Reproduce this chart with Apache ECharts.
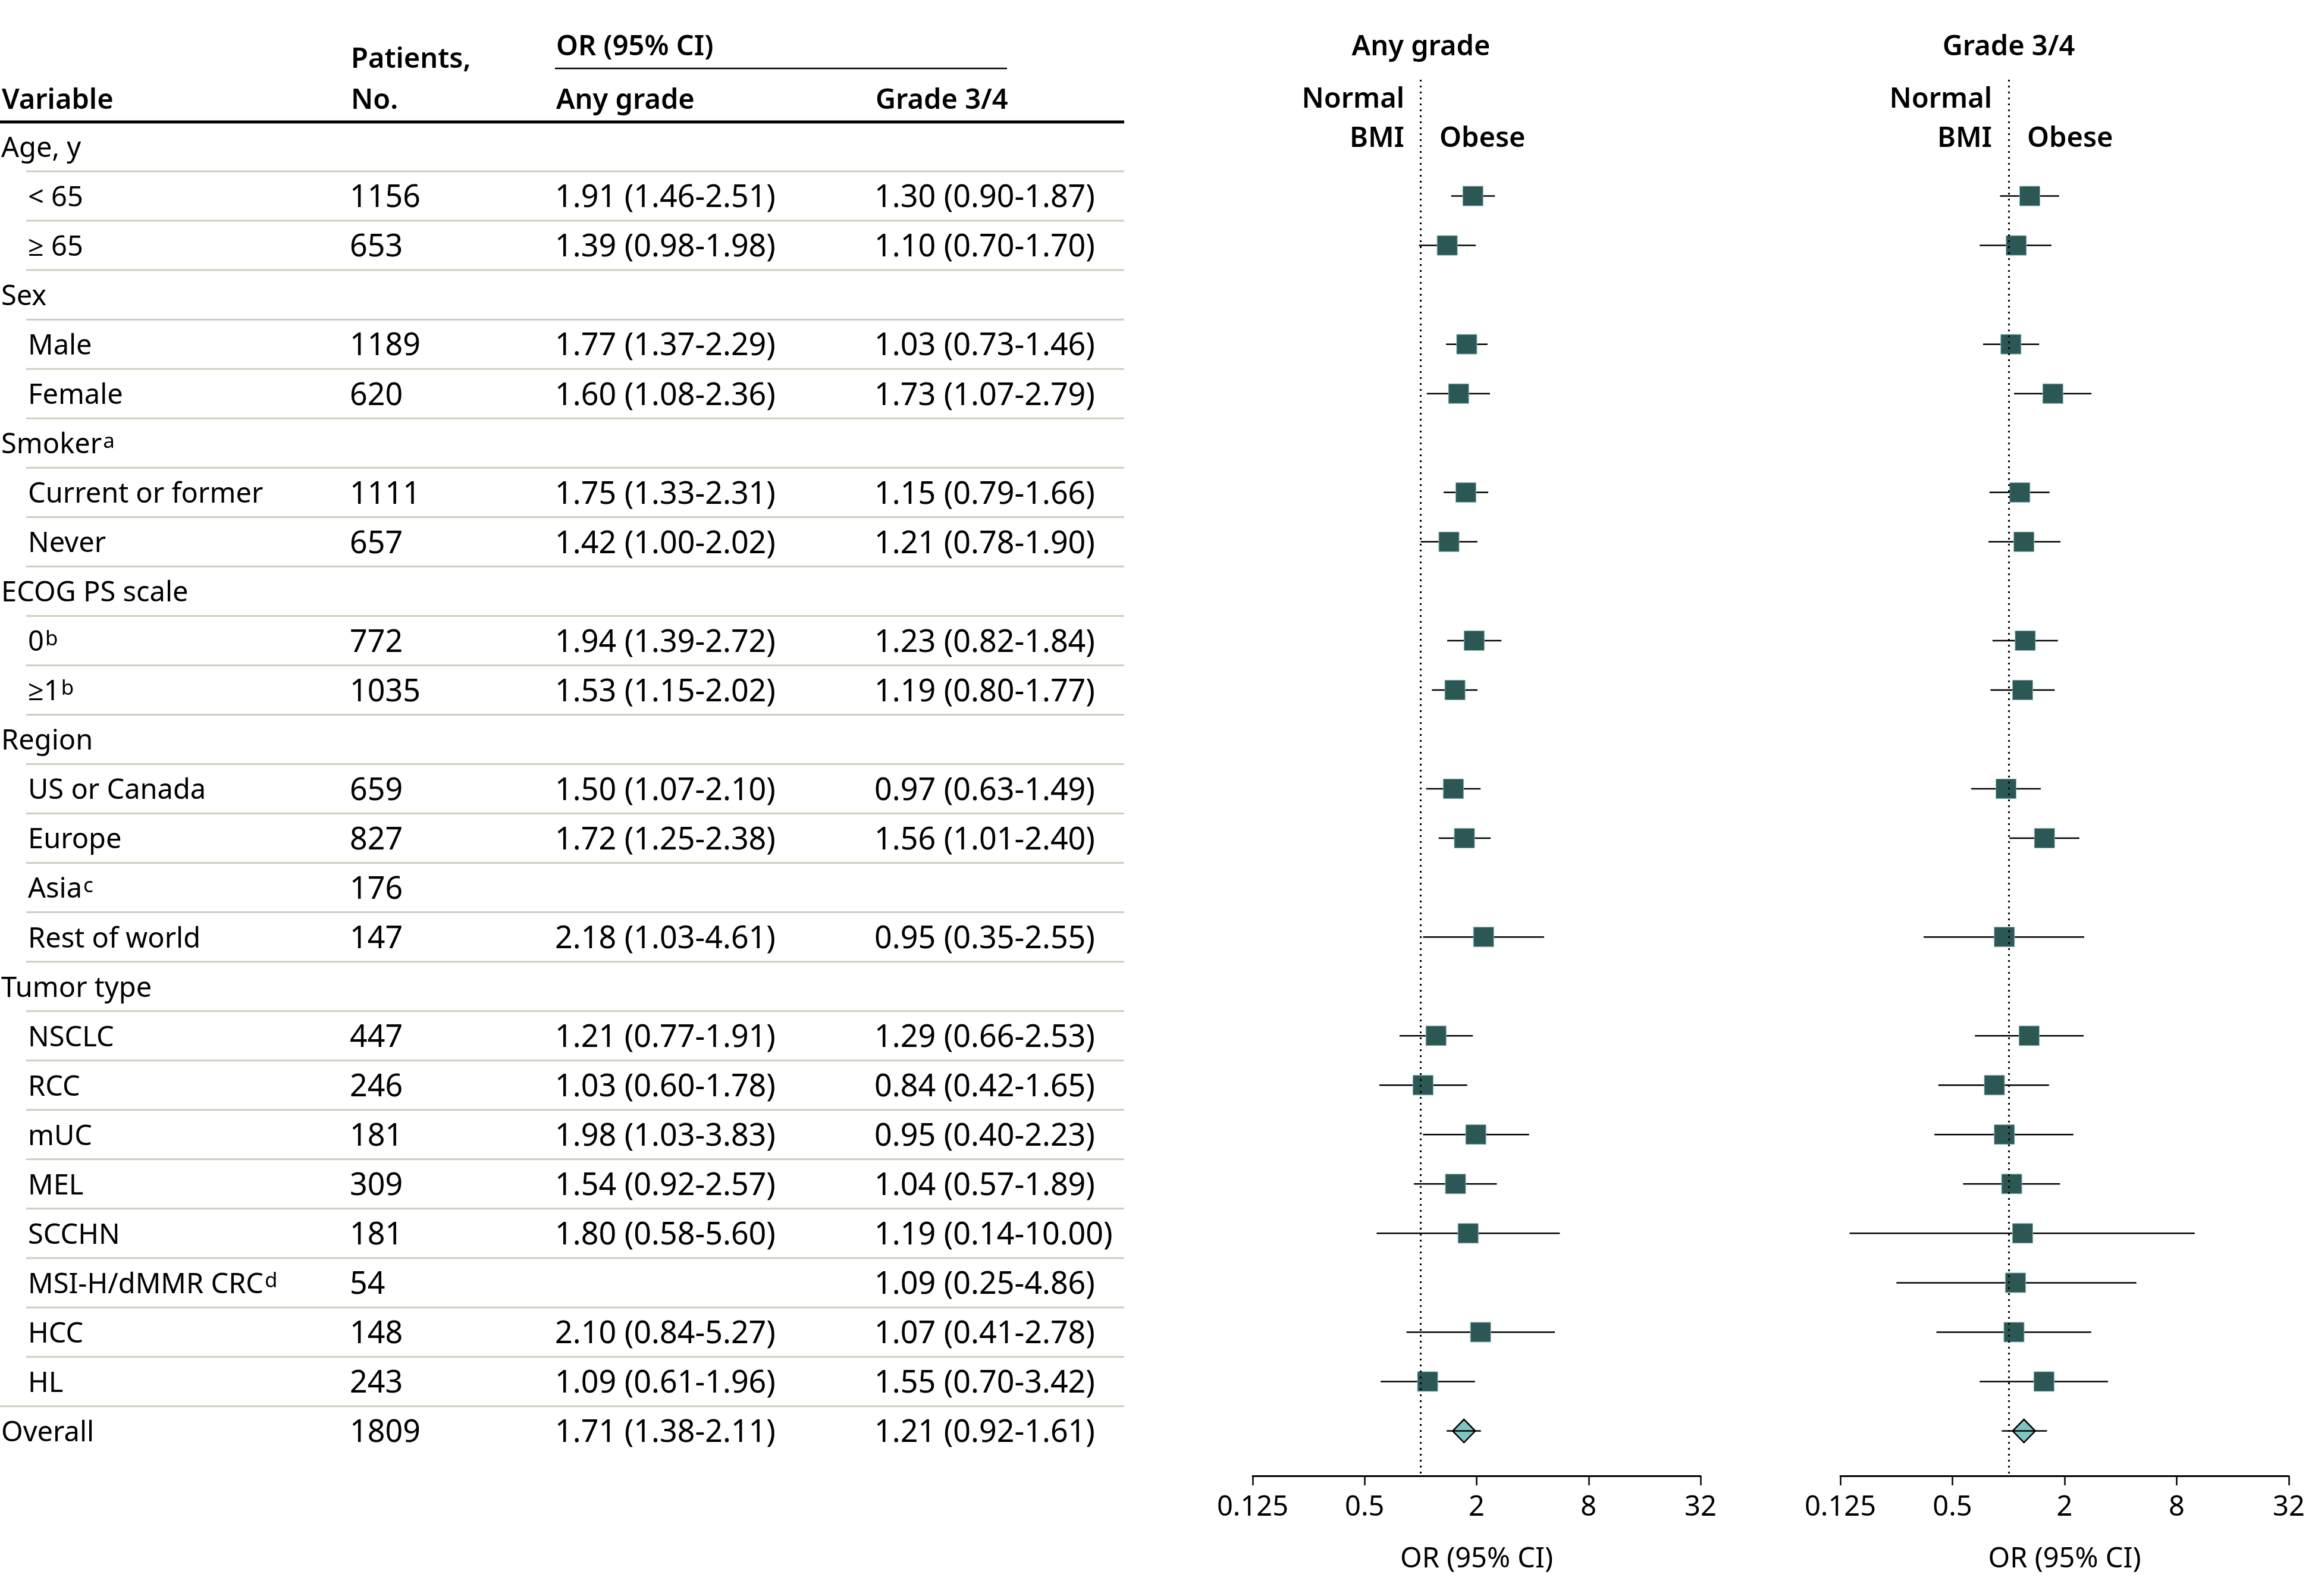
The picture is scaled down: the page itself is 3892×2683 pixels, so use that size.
<!DOCTYPE html>
<html><head><meta charset="utf-8">
<script src="https://cdn.jsdelivr.net/npm/echarts@6/dist/echarts.min.js"></script>
<style>html,body{margin:0;padding:0;background:#fff}#c{width:3892px;height:2683px}</style>
</head><body><div id="c"></div>
<script>
// ---------------- DATA ----------------
const variables = ['Age, y','< 65','≥ 65','Sex','Male','Female','Smoker','Current or former','Never','ECOG PS scale','0','≥1','Region','US or Canada','Europe','Asia','Rest of world','Tumor type','NSCLC','RCC','mUC','MEL','SCCHN','MSI-H/dMMR CRC','HCC','HL','Overall'];
const footnotes = ['','','','','','','a','','','','b','b','','','','c','','','','','','','','d','','',''];
const rowKind = ['group','item','item','group','item','item','group','item','item','group','item','item','group','item','item','item','item','group','item','item','item','item','item','item','item','item','overall'];
const patients = [null,1156,653,null,1189,620,null,1111,657,null,772,1035,null,659,827,176,147,null,447,246,181,309,181,54,148,243,1809];
const anyOR = [null,1.91,1.39,null,1.77,1.60,null,1.75,1.42,null,1.94,1.53,null,1.50,1.72,null,2.18,null,1.21,1.03,1.98,1.54,1.80,null,2.10,1.09,1.71];
const anyLo = [null,1.46,0.98,null,1.37,1.08,null,1.33,1.00,null,1.39,1.15,null,1.07,1.25,null,1.03,null,0.77,0.60,1.03,0.92,0.58,null,0.84,0.61,1.38];
const anyHi = [null,2.51,1.98,null,2.29,2.36,null,2.31,2.02,null,2.72,2.02,null,2.10,2.38,null,4.61,null,1.91,1.78,3.83,2.57,5.60,null,5.27,1.96,2.11];
const g34OR = [null,1.30,1.10,null,1.03,1.73,null,1.15,1.21,null,1.23,1.19,null,0.97,1.56,null,0.95,null,1.29,0.84,0.95,1.04,1.19,1.09,1.07,1.55,1.21];
const g34Lo = [null,0.90,0.70,null,0.73,1.07,null,0.79,0.78,null,0.82,0.80,null,0.63,1.01,null,0.35,null,0.66,0.42,0.40,0.57,0.14,0.25,0.41,0.70,0.92];
const g34Hi = [null,1.87,1.70,null,1.46,2.79,null,1.66,1.90,null,1.84,1.77,null,1.49,2.40,null,2.55,null,2.53,1.65,2.23,1.89,10.00,4.86,2.78,3.42,1.61];
const xTicks = [0.125, 0.5, 2, 8, 32];
const refValue = 1;

// ---------------- STYLE / LAYOUT ----------------
const FF = '"Noto Sans", "Open Sans", sans-serif';
const FS = 47;      // labels
const FSN = 52;     // numeric table columns
const HEADW = 600;
const TY = 4;       // text baseline nudge
const gridTop = 134, gridH = 2347;
const yMin = -1.355, yMax = 26.909;
const rowLineColor = '#c9d1c1';
const squareColor = '#2b5755';

const chart = echarts.init(document.getElementById('c'), null, {renderer: 'canvas'});

function fmt(o, l, h) {
  if (o == null) return '';
  return o.toFixed(2) + ' (' + l.toFixed(2) + '-' + h.toFixed(2) + ')';
}

function renderTable(params, api) {
  const i = api.value(1);
  const y = api.coord([0, i])[1] + TY;
  const X = v => api.coord([v, i])[0];
  const kind = rowKind[i];
  const labelX = kind === 'item' ? 47 : 2;
  const children = [];
  const baseStyle = {fill: '#000', font: FS + 'px ' + FF, verticalAlign: 'middle', textAlign: 'left'};
  const numStyle = {fill: '#000', font: FSN + 'px ' + FF, verticalAlign: 'middle', textAlign: 'left'};
  const lab = variables[i] + (footnotes[i] ? '{sup|' + footnotes[i] + '}' : '');
  children.push({type: 'text', x: X(labelX), y: y, style: Object.assign({}, baseStyle, {
    text: lab,
    rich: {sup: {fontSize: 35, fontFamily: FF, fill: '#000', verticalAlign: 'top', lineHeight: 30, padding: [0, 0, 0, 2]}}
  })});
  if (patients[i] != null) {
    children.push({type: 'text', x: X(588), y: y, style: Object.assign({}, numStyle, {text: String(patients[i])})});
  }
  const a = fmt(anyOR[i], anyLo[i], anyHi[i]);
  if (a) children.push({type: 'text', x: X(933), y: y, style: Object.assign({}, numStyle, {text: a})});
  const g = fmt(g34OR[i], g34Lo[i], g34Hi[i]);
  if (g) children.push({type: 'text', x: X(1470), y: y, style: Object.assign({}, numStyle, {text: g})});
  if (i < variables.length - 1) {
    const yb = api.coord([0, i + 0.5])[1];
    const x1 = rowKind[i + 1] === 'overall' ? X(0) : X(44);
    children.push({type: 'line', shape: {x1: x1, y1: yb, x2: X(1890), y2: yb}, style: {stroke: rowLineColor, lineWidth: 3}});
  }
  return {type: 'group', children: children};
}

function renderForest(params, api) {
  const or = api.value(0), idx = api.value(1), lo = api.value(2), hi = api.value(3);
  const c = api.coord([or, idx]);
  const l = api.coord([lo, idx]), h = api.coord([hi, idx]);
  const line = {type: 'line', shape: {x1: l[0], y1: c[1], x2: h[0], y2: c[1]}, style: {stroke: '#000', lineWidth: 2.5}};
  if (rowKind[idx] === 'overall') {
    const w = 19, hh = 19.5;
    return {type: 'group', children: [
      {type: 'polygon', shape: {points: [[c[0] - w, c[1]], [c[0], c[1] - hh], [c[0] + w, c[1]], [c[0], c[1] + hh]]},
       style: {fill: '#7fc4c0', stroke: '#000', lineWidth: 2.5}},
      line
    ]};
  }
  return {type: 'group', children: [
    line,
    {type: 'rect', shape: {x: c[0] - 17, y: c[1] - 16.5, width: 34, height: 33}, style: {fill: squareColor, stroke: '#86b5b2', lineWidth: 1}}
  ]};
}

function forestData(OR, LO, HI) {
  const d = [];
  for (let i = 0; i < OR.length; i++) if (OR[i] != null) d.push([OR[i], i, LO[i], HI[i]]);
  return d;
}

function logAxis(gridIndex) {
  return {
    type: 'log', logBase: 2, gridIndex: gridIndex, min: xTicks[0], max: xTicks[xTicks.length - 1],
    name: 'OR (95% CI)', nameLocation: 'middle', nameGap: 117,
    nameTextStyle: {fontSize: FS, fontFamily: FF, color: '#000'},
    axisLine: {show: true, onZero: false, lineStyle: {color: '#000', width: 3}},
    axisTick: {show: true, length: 16, lineStyle: {color: '#000', width: 2.5}, customValues: xTicks},
    axisLabel: {show: true, fontSize: FS, fontFamily: FF, color: '#000', margin: 30, customValues: xTicks,
      formatter: v => String(v)},
    splitLine: {show: false}, minorTick: {show: false}
  };
}

function hiddenY(gridIndex) {
  return {type: 'value', gridIndex: gridIndex, inverse: true, min: yMin, max: yMax, show: false, splitLine: {show: false}};
}

const gridBase = {top: gridTop, height: gridH, containLabel: false, outerBoundsMode: 'none'};

const markLineRef = {
  symbol: 'none', silent: true, animation: false, label: {show: false},
  lineStyle: {color: '#000', type: [3, 7], width: 3},
  data: [{xAxis: refValue}]
};

const txt = (text, x, y, align, weight) => ({
  type: 'text', x: x, y: y + TY, silent: true,
  style: {text: text, fill: '#000', font: (weight || 'normal') + ' ' + FS + 'px ' + FF, textAlign: align || 'left', verticalAlign: 'middle'}
});

const option = {
  animation: false,
  backgroundColor: '#fff',
  grid: [
    Object.assign({left: 2106, width: 753}, gridBase),
    Object.assign({left: 3094, width: 754}, gridBase),
    Object.assign({left: 0, width: 1892}, gridBase)
  ],
  xAxis: [
    logAxis(0), logAxis(1),
    {type: 'value', gridIndex: 2, min: 0, max: 1892, show: false, splitLine: {show: false}}
  ],
  yAxis: [hiddenY(0), hiddenY(1), hiddenY(2)],
  series: [
    {type: 'custom', name: 'Any grade', xAxisIndex: 0, yAxisIndex: 0, data: forestData(anyOR, anyLo, anyHi),
      encode: {x: [0, 2, 3], y: 1}, renderItem: renderForest, markLine: markLineRef, z: 3},
    {type: 'custom', name: 'Grade 3/4', xAxisIndex: 1, yAxisIndex: 1, data: forestData(g34OR, g34Lo, g34Hi),
      encode: {x: [0, 2, 3], y: 1}, renderItem: renderForest, markLine: markLineRef, z: 3},
    {type: 'custom', name: 'Table', xAxisIndex: 2, yAxisIndex: 2, data: variables.map((v, i) => [0, i]),
      encode: {x: 0, y: 1}, renderItem: renderTable, silent: true}
  ],
  graphic: [
    txt('OR (95% CI)', 935, 76, 'left', HEADW),
    {type: 'line', silent: true, shape: {x1: 933, y1: 115, x2: 1693, y2: 115}, style: {stroke: '#000', lineWidth: 2.5}},
    txt('Patients,', 590, 97, 'left', HEADW),
    txt('Variable', 3, 166, 'left', HEADW),
    txt('No.', 590, 166, 'left', HEADW),
    txt('Any grade', 935, 166, 'left', HEADW),
    txt('Grade 3/4', 1472, 166, 'left', HEADW),
    {type: 'line', silent: true, shape: {x1: 0, y1: 205, x2: 1890, y2: 205}, style: {stroke: '#000', lineWidth: 5}},
    txt('Any grade', 2389, 76, 'center', HEADW),
    txt('Normal', 2361, 164, 'right', HEADW),
    txt('BMI', 2361, 230, 'right', HEADW),
    txt('Obese', 2420, 230, 'left', HEADW),
    txt('Grade 3/4', 3377, 76, 'center', HEADW),
    txt('Normal', 3349, 164, 'right', HEADW),
    txt('BMI', 3349, 230, 'right', HEADW),
    txt('Obese', 3408, 230, 'left', HEADW)
  ]
};
chart.setOption(option);
</script>
</body></html>
